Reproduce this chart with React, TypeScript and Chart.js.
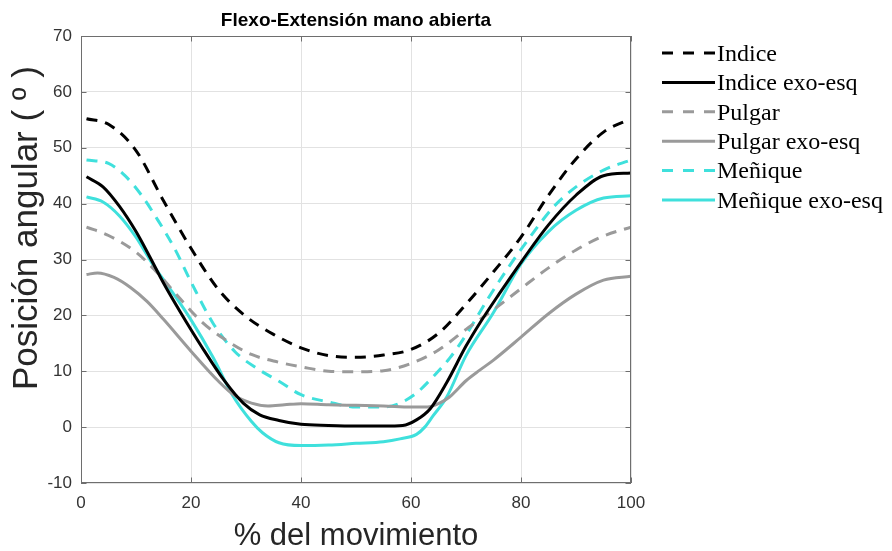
import React, { useEffect, useRef } from "react";
import { Chart, registerables } from "chart.js";

Chart.register(...registerables);

const chartTitle = "Flexo-Extensión mano abierta";
const xAxisTitle = "% del movimiento";
const yAxisTitle = "Posición angular ( º )";

const seriesLabels = [
  "Indice",
  "Indice exo-esq",
  "Pulgar",
  "Pulgar exo-esq",
  "Meñique",
  "Meñique exo-esq",
];

const indiceX = [1, 5, 10, 15, 20, 25, 30, 35, 40, 45, 50, 55, 60, 65, 70, 75, 80, 85, 90, 95, 100];
const indiceY = [55.2, 54.2, 49.5, 40.5, 32, 24.6, 19.8, 16.6, 14.2, 12.8, 12.5, 12.9, 13.9, 16.8, 22, 27.8, 34, 41.5, 48, 52.8, 55.2];

const indiceExoX = [1, 4, 7, 10, 12.5, 15, 18, 22, 26, 29.5, 32.5, 36, 40, 45, 50, 55, 58.5, 61, 63.5, 66.5, 70, 72.5, 76, 80, 85, 90, 95, 100];
const indiceExoY = [44.8, 43, 39.5, 35, 30.5, 25.8, 20.7, 14.3, 8.4, 4.3, 2.2, 1.2, 0.5, 0.3, 0.2, 0.2, 0.3, 1.3, 3.3, 8, 14.5, 18.6, 23.8, 29.5, 36.2, 41.5, 45, 45.5];

const pulgarX = [1, 5, 10, 14, 18, 22, 26, 31, 36, 40, 45, 50, 55, 60, 65, 70, 75, 80, 85, 90, 95, 100];
const pulgarY = [35.8, 34.3, 31.3, 27.5, 23, 18.8, 15.8, 13, 11.6, 10.8, 10, 9.9, 10.1, 11.4, 13.8, 17.5, 21, 24.8, 28.5, 31.7, 34.2, 35.8];

const pulgarExoX = [1, 3, 6, 9, 12, 15, 20, 25, 28, 31, 34, 37, 40, 45, 50, 55, 60, 63, 65, 67, 70, 72.5, 75, 80, 85, 90, 95, 100];
const pulgarExoY = [27.3, 27.6, 26.8, 25, 22.5, 19.3, 13.6, 8.2, 5.6, 4.3, 3.8, 4, 4.2, 4, 3.9, 3.8, 3.6, 3.6, 4.2, 5.4, 8.3, 10.2, 12, 16.1, 20.3, 23.8, 26.3, 27];

const meniqueX = [1, 5, 8, 11, 14, 17, 20, 24, 28, 32, 36, 40, 45, 50, 55, 58, 61, 64, 67, 70, 74, 78, 82, 86, 90, 95, 100];
const meniqueY = [47.8, 47.2, 45, 41.5, 37, 32, 26, 18.6, 13.5, 10.5, 8.2, 5.8, 4.5, 3.6, 3.6, 4.3, 6.1, 9, 12.3, 16.5, 23, 29, 34.5, 39.5, 43, 46, 47.8];

const meniqueExoX = [1, 4, 7, 10, 13, 16, 20, 24, 27.5, 31, 33, 36, 40, 45, 50, 55, 58, 61, 62.5, 64, 66.5, 70, 75, 80, 85, 90, 95, 100];
const meniqueExoY = [41.2, 40.3, 37.8, 34, 29.2, 25, 19.2, 12.5, 5.8, 1, -1, -2.8, -3.3, -3.2, -2.9, -2.6, -2.1, -1.3, 0, 2, 5.4, 12.8, 20.5, 29.2, 35, 38.8, 41, 41.4];

const xMin = 0, xMax = 100, xStep = 20;
const yMin = -10, yMax = 70, yStep = 10;

const seriesXs = [indiceX, indiceExoX, pulgarX, pulgarExoX, meniqueX, meniqueExoX];
const seriesYs = [indiceY, indiceExoY, pulgarY, pulgarExoY, meniqueY, meniqueExoY];
const seriesColors = ["#000000", "#000000", "#9a9a9a", "#9a9a9a", "#3fe0dc", "#3fe0dc"];
const seriesDashed = [true, false, true, false, true, false];

const PLOT_DASH = [11, 8];
const LEGEND_DASH = [11, 10];

const W = 892, H = 551;
const AREA = { left: 81, top: 36, right: 631, bottom: 483 };

const decorPlugin = {
  id: "decor",
  afterDraw(chart: any) {
    const ctx = chart.ctx as CanvasRenderingContext2D;
    const { left, top, right, bottom } = chart.chartArea;
    const xs = chart.scales.x, ys = chart.scales.y;
    ctx.save();
    ctx.strokeStyle = "#6e6e6e";
    ctx.lineWidth = 1;
    ctx.setLineDash([]);
    ctx.strokeRect(left + 0.5, top + 0.5, right - left - 1, bottom - top - 1);
    const tl = 5.5;
    ctx.beginPath();
    for (let v = xMin; v <= xMax; v += xStep) {
      const px = Math.round(xs.getPixelForValue(v)) + 0.5;
      ctx.moveTo(px, bottom);
      ctx.lineTo(px, bottom - tl);
      ctx.moveTo(px, top);
      ctx.lineTo(px, top + tl);
    }
    for (let v = yMin; v <= yMax; v += yStep) {
      const py = Math.round(ys.getPixelForValue(v)) + 0.5;
      ctx.moveTo(left, py);
      ctx.lineTo(left + tl, py);
      ctx.moveTo(right, py);
      ctx.lineTo(right - tl, py);
    }
    ctx.stroke();

    ctx.fillStyle = "#000";
    ctx.font = 'bold 19px "Liberation Sans", Arial, sans-serif';
    ctx.textAlign = "center";
    ctx.textBaseline = "middle";
    ctx.fillText(chartTitle, (left + right) / 2, 21);

    ctx.fillStyle = "#262626";
    ctx.font = '31px "Liberation Sans", Arial, sans-serif';
    ctx.textAlign = "center";
    ctx.textBaseline = "alphabetic";
    ctx.fillText(xAxisTitle, (left + right) / 2, 545);

    ctx.save();
    ctx.translate(37, 228);
    ctx.rotate(-Math.PI / 2);
    ctx.font = '35px "Liberation Sans", Arial, sans-serif';
    ctx.textAlign = "center";
    ctx.textBaseline = "alphabetic";
    ctx.fillText(yAxisTitle, 0, 0);
    ctx.restore();

    const lx0 = 662, lx1 = 715;
    for (let i = 0; i < seriesLabels.length; i++) {
      const y = 53 + i * 29.4;
      ctx.beginPath();
      ctx.strokeStyle = seriesColors[i];
      ctx.lineWidth = 3;
      ctx.setLineDash(seriesDashed[i] ? LEGEND_DASH : []);
      ctx.moveTo(lx0, y);
      ctx.lineTo(lx1, y);
      ctx.stroke();
      ctx.setLineDash([]);
      ctx.fillStyle = "#000";
      ctx.font = '24px "Liberation Serif", "Times New Roman", serif';
      ctx.textAlign = "left";
      ctx.textBaseline = "middle";
      ctx.fillText(seriesLabels[i], 717, y + 1.5);
    }
    ctx.restore();
  },
};

export default function App() {
  const ref = useRef<HTMLCanvasElement | null>(null);

  useEffect(() => {
    if (!ref.current) return;
    const datasets = seriesLabels.map((label, i) => ({
      label,
      data: seriesXs[i].map((x, j) => ({ x, y: seriesYs[i][j] })),
      borderColor: seriesColors[i],
      backgroundColor: seriesColors[i],
      borderWidth: 3,
      borderDash: seriesDashed[i] ? PLOT_DASH : [],
      pointRadius: 0,
      fill: false,
      cubicInterpolationMode: "monotone" as const,
    }));
    const chart = new Chart(ref.current, {
      type: "line",
      data: { datasets },
      options: {
        responsive: false,
        animation: false,
        devicePixelRatio: 1,
        layout: {
          padding: { top: AREA.top, right: W - AREA.right, left: 0, bottom: 0 },
        },
        plugins: {
          legend: { display: false },
          title: { display: false },
          tooltip: { enabled: false },
        },
        scales: {
          x: {
            type: "linear",
            min: xMin,
            max: xMax,
            afterFit(scale: any) {
              scale.height = H - AREA.bottom;
            },
            ticks: {
              stepSize: xStep,
              padding: 10,
              color: "#333",
              font: { family: '"Liberation Sans", Arial, sans-serif', size: 17 },
            },
            grid: { color: "#e2e2e2", lineWidth: 1, drawTicks: false },
            border: { display: false },
          },
          y: {
            type: "linear",
            min: yMin,
            max: yMax,
            afterFit(scale: any) {
              scale.width = AREA.left;
            },
            ticks: {
              stepSize: yStep,
              padding: 9,
              color: "#333",
              font: { family: '"Liberation Sans", Arial, sans-serif', size: 17 },
            },
            grid: { color: "#e2e2e2", lineWidth: 1, drawTicks: false },
            border: { display: false },
          },
        },
      },
      plugins: [decorPlugin],
    });
    return () => chart.destroy();
  }, []);

  return (
    <div style={{ position: "fixed", left: 0, top: 0, width: W, height: H, background: "#fff" }}>
      <canvas ref={ref} width={W} height={H} style={{ display: "block", width: W, height: H }} />
    </div>
  );
}
